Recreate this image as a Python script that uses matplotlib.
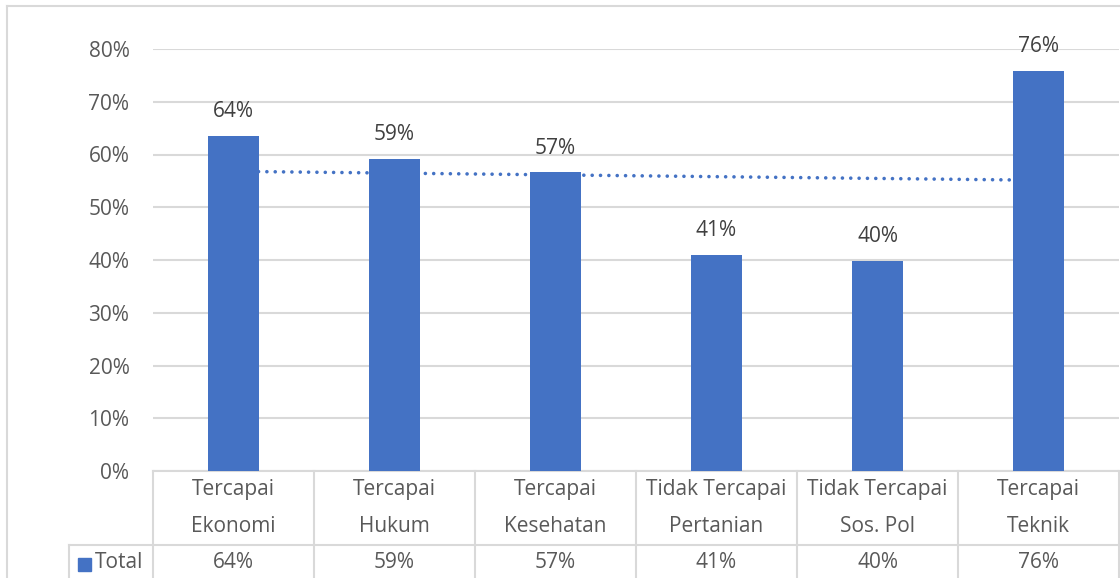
import matplotlib
matplotlib.use("Agg")
import matplotlib.pyplot as plt
import numpy as np
from matplotlib.lines import Line2D
from matplotlib.patches import Rectangle
import matplotlib.transforms as mtransforms

categories = ["Tercapai\nEkonomi", "Tercapai\nHukum", "Tercapai\nKesehatan",
              "Tidak Tercapai\nPertanian", "Tidak Tercapai\nSos. Pol", "Tercapai\nTeknik"]
values = [0.635, 0.591, 0.566, 0.409, 0.399, 0.758]
series_name = "Total"
yticks = [0, 0.1, 0.2, 0.3, 0.4, 0.5, 0.6, 0.7, 0.8]

BLUE = "#4472C4"
GRID = "#D9D9D9"
TXT = "#595959"
FONT = "Open Sans"
FS = 15

W, H = 1120, 578
fig = plt.figure(figsize=(W / 100, H / 100), dpi=100)

def fx(px):
    return px / W

def fy(py):
    return 1 - py / H

ax_left, ax_right, ax_top, ax_bot = 153, 1119, 49, 471
ax = fig.add_axes([fx(ax_left), fy(ax_bot), fx(ax_right - ax_left), (ax_bot - ax_top) / H])

x = np.arange(len(values))
ax.bar(x, values, width=0.32, color=BLUE, zorder=3)

# linear trendline
coef = np.polyfit(x, values, 1)
ax.plot(x, np.polyval(coef, x), linestyle=(0, (0.01, 2.3)), color=BLUE, lw=2.6, zorder=2,
        dash_capstyle="round")

for xi, v in zip(x, values):
    ax.annotate(f"{v*100:.0f}%", (xi, v), xytext=(0, 10), textcoords="offset points",
                ha="center", va="bottom", fontsize=FS, color="#404040", family=FONT)

ax.set_xlim(-0.5, len(values) - 0.5)
ax.set_ylim(0, 0.8)
ax.set_yticks(yticks)
ax.set_yticklabels([f"{t*100:.0f}%" for t in yticks], fontsize=FS, color=TXT, family=FONT)
ax.tick_params(axis="y", length=0, pad=17)
ax.set_xticks([])
ax.grid(axis="y", color=GRID, lw=1.5, zorder=0)
ax.set_axisbelow(True)
for s in ax.spines.values():
    s.set_visible(False)

# data table
trans = mtransforms.blended_transform_factory(ax.transData, ax.transAxes)
axh = ax_bot - ax_top
row1 = -(545 - ax_bot) / axh
bottom = -(600 - ax_bot) / axh
leg_x = -0.5 - (ax_left - 69) / 161.0
kw = dict(color=GRID, lw=1.5, transform=trans, clip_on=False)
ax.add_line(Line2D([-0.5, 5.6], [0, 0], **kw))
ax.add_line(Line2D([leg_x, 5.6], [row1, row1], **kw))
for b in np.arange(-0.5, 6.0, 1.0):
    ax.add_line(Line2D([b, b], [0, bottom], **kw))
ax.add_line(Line2D([leg_x, leg_x], [row1, bottom], **kw))

line1_y = -(490 - ax_bot) / axh
line2_y = -(526 - ax_bot) / axh
val_y = -(562 - ax_bot) / axh
for xi, cat, v in zip(x, categories, values):
    a, b = cat.split("\n")
    ax.text(xi, line1_y, a, transform=trans, ha="center", va="center", fontsize=FS,
            color=TXT, family=FONT, clip_on=False)
    ax.text(xi, line2_y, b, transform=trans, ha="center", va="center", fontsize=FS,
            color=TXT, family=FONT, clip_on=False)
    ax.text(xi, val_y, f"{v*100:.0f}%", transform=trans, ha="center", va="center",
            fontsize=FS, color=TXT, family=FONT, clip_on=False)

# legend key in table
fig.patches.append(Rectangle((fx(78), fy(571)), fx(13), 13 / H, color=BLUE,
                             transform=fig.transFigure))
fig.text(fx(95), fy(562), series_name, ha="left", va="center", fontsize=FS, color=TXT,
         family=FONT)

# outer chart border
fig.add_artist(Line2D([fx(7), fx(7)], [fy(6), 0], color=GRID, lw=1.5))
fig.add_artist(Line2D([fx(7), 1], [fy(6), fy(6)], color=GRID, lw=1.5))

fig.savefig("out.png", dpi=100)
